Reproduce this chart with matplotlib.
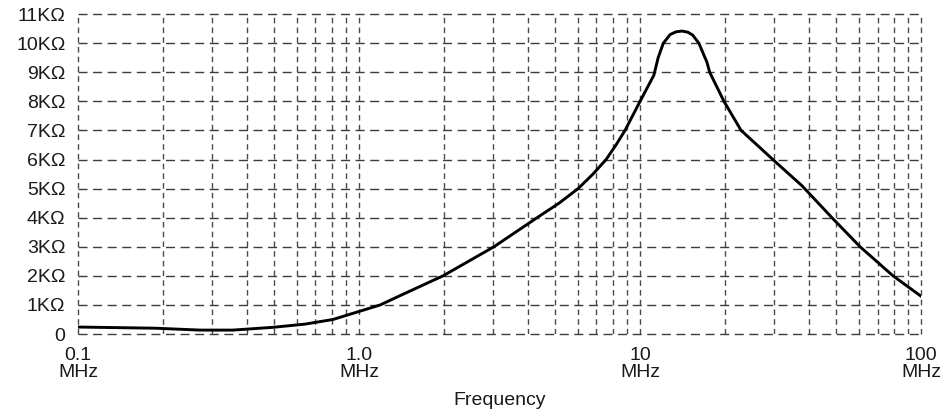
import matplotlib
matplotlib.use("Agg")
import matplotlib.pyplot as plt
from matplotlib.ticker import FixedLocator, LogLocator, NullFormatter

# impedance curve (MHz, ohms)
freq = [0.1, 0.188, 0.272, 0.356, 0.494, 0.642, 0.808, 1.19, 1.40, 1.99,
        3.02, 4.30, 5.15, 6.02, 6.80, 7.57, 8.21, 8.84, 10.0, 11.2, 11.6,
        12.1, 12.8, 13.4, 14.1, 14.8, 15.4, 16.2, 17.3, 17.7, 19.9, 22.9,
        26.1, 29.7, 33.9, 37.7, 48.2, 60.7, 79.5, 100.0]
ohms = [240, 200, 135, 135, 230, 340, 500, 1000, 1320, 2000,
        3000, 4000, 4500, 5000, 5500, 6000, 6500, 7000, 8000, 8900, 9500,
        10000, 10300, 10390, 10420, 10380, 10280, 10000, 9350, 9000, 8000, 7000,
        6500, 6000, 5500, 5100, 4000, 3000, 2000, 1300]

x_ticks = [0.1, 1.0, 10, 100]
x_labels = ["0.1\nMHz", "1.0\nMHz", "10\nMHz", "100\nMHz"]
y_ticks = list(range(0, 11001, 1000))
y_labels = ["0"] + ["%dKΩ" % k for k in range(1, 12)]

plt.rcParams["font.family"] = ["Liberation Sans", "DejaVu Sans"]

fig = plt.figure(figsize=(9.51, 4.17), dpi=100)
ax = fig.add_axes([0.082, 0.199, 0.8865, 0.767])

ax.plot(freq, ohms, color="black", lw=2.1, solid_joinstyle="round", zorder=3)

ax.set_xscale("log")
ax.set_xlim(0.1, 100)
ax.set_ylim(0, 11000)

ax.xaxis.set_major_locator(FixedLocator(x_ticks))
ax.xaxis.set_minor_locator(LogLocator(base=10, subs=range(2, 10)))
ax.xaxis.set_minor_formatter(NullFormatter())
ax.set_xticklabels(x_labels)
ax.set_yticks(y_ticks)
ax.set_yticklabels(y_labels)

ax.tick_params(axis="both", which="both", length=0, labelsize=14, colors="#1a1a1a")
ax.tick_params(axis="y", pad=9)
ax.tick_params(axis="x", pad=9)
for lab in ax.get_xticklabels():
    lab.set_linespacing(1.0)

# horizontal dashes are long, vertical ones short
ax.grid(True, which="major", axis="y", color="#3c3c3c",
        linestyle=(0, (6.5, 4)), linewidth=1.0)
ax.grid(True, which="both", axis="x", color="#4a4a4a",
        linestyle=(0, (4, 3)), linewidth=1.0)
for gl in ax.get_xgridlines() + ax.get_ygridlines():
    gl.set_clip_on(False)

for s in ax.spines.values():
    s.set_visible(False)

ax.set_xlabel("Frequency", fontsize=14, labelpad=8, color="#1a1a1a")

fig.savefig("out.png", dpi=100)
